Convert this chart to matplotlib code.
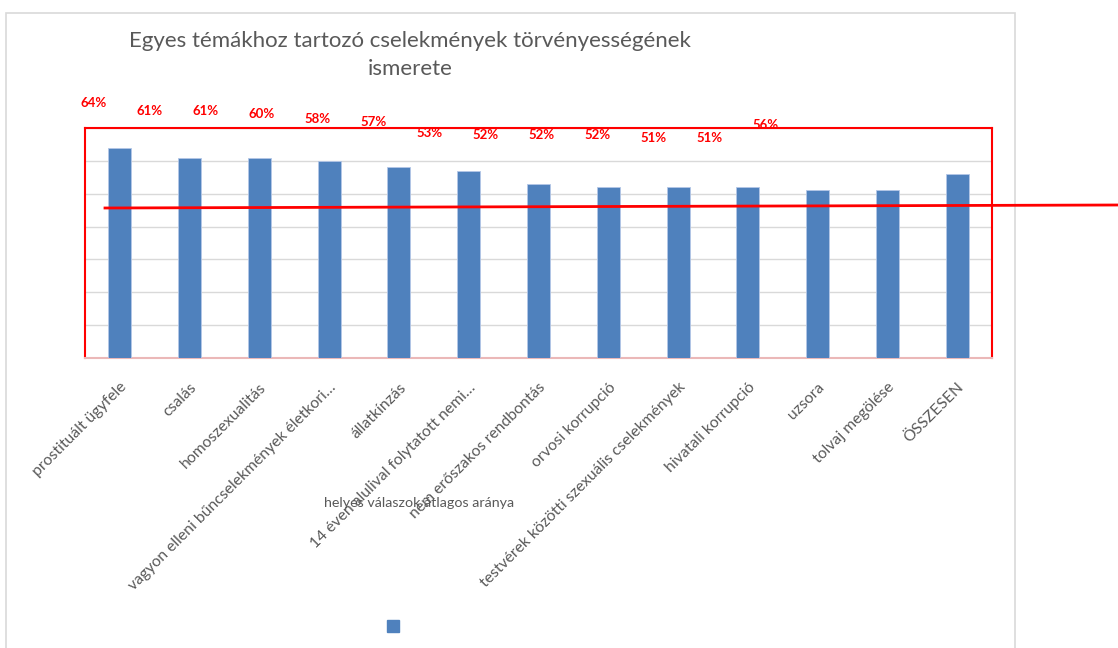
import matplotlib.pyplot as plt
from matplotlib.patches import Rectangle
from matplotlib.lines import Line2D

categories = [
    "prostituált ügyfele",
    "csalás",
    "homoszexualitás",
    "vagyon elleni bűncselekmények életkori…",
    "állatkínzás",
    "14 éven alulival folytatott nemi…",
    "nem erőszakos rendbontás",
    "orvosi korrupció",
    "testvérek közötti szexuális cselekmények",
    "hivatali korrupció",
    "uzsora",
    "tolvaj megölése",
    "ÖSSZESEN",
]
values = [64, 61, 61, 60, 58, 57, 53, 52, 52, 52, 51, 51, 56]
pct_labels = [f"{v}%" for v in values]

title = "Egyes témákhoz tartozó cselekmények törvényességének\nismerete"
legend_text = "helyes válaszok átlagos aránya"

plt.rcParams['font.family'] = ['Lato', 'DejaVu Sans']

W, H = 1118, 648
fig = plt.figure(figsize=(W / 100, H / 100), dpi=100)

# outer chart frame
fig.patches.append(Rectangle((6 / W, -0.1), (1015 - 6) / W, 1.1 - 13 / H,
                             transform=fig.transFigure, fill=False,
                             edgecolor="#D9D9D9", lw=1.2))

# main plot area
ax = fig.add_axes([85 / W, (H - 358) / H, (992 - 85) / W, (358 - 128) / H])
x = range(len(categories))
ax.bar(x, values, width=0.33, color="#4F81BD", edgecolor="#B4C7E7", linewidth=0.6, zorder=3)
ax.set_xlim(-0.5, len(categories) - 0.5)
ax.set_ylim(0, 70)
ax.set_yticks(range(0, 71, 10))
ax.set_yticklabels([])
ax.grid(axis="y", color="#D9D9D9", lw=1, zorder=0)
ax.tick_params(length=0)
ax.set_xticks(list(x))
ax.set_xticklabels(categories, rotation=45, ha="right", rotation_mode="anchor",
                   fontsize=11.3, color="#595959")
ax.tick_params(axis="x", pad=16)
for s in ["left", "right", "top"]:
    ax.spines[s].set_color("#FF0000")
    ax.spines[s].set_linewidth(1.5)
ax.spines["bottom"].set_color("#EBB8B8")
ax.spines["bottom"].set_linewidth(1.5)

# red percentage labels (separate, offset series)
ax2 = fig.add_axes([94 / W, (H - 138) / H, (766 - 94) / W, (138 - 103) / H])
ax2.set_xlim(0, len(values) - 1)
ax2.set_ylim(51, 64)
ax2.axis("off")
for i, (v, lab) in enumerate(zip(values, pct_labels)):
    ax2.text(i, v, lab, ha="center", va="center", color="#FF0000",
             fontsize=9.5, fontweight="bold", clip_on=False)

# title
fig.text(410 / W, 1 - 55 / H, title, ha="center", va="center",
         fontsize=16, color="#595959", linespacing=1.5)

# average line overlay
fig.add_artist(Line2D([105 / W, 1.0], [1 - 208 / H, 1 - 205 / H],
                      transform=fig.transFigure, color="#FF0000", lw=2))

# legend pieces
fig.text(419 / W, 1 - 503 / H, legend_text, ha="center", va="center",
         fontsize=10.3, color="#595959")
fig.patches.append(Rectangle((387 / W, 1 - 632 / H), 12 / W, 12 / H,
                             transform=fig.transFigure, color="#4F81BD"))

fig.savefig("out.png", dpi=100)
